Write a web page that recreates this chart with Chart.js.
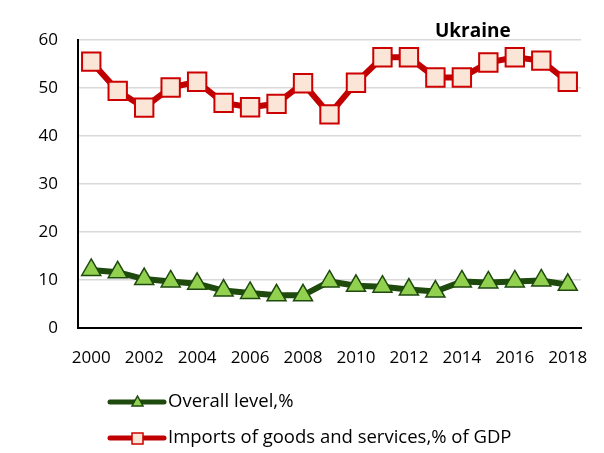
<!DOCTYPE html>
<html lang="en">
<head>
    <meta charset="UTF-8">
    <title>Ukraine</title>
    <script src="https://cdn.jsdelivr.net/npm/chart.js"></script>
    <style>
        html, body { margin: 0; padding: 0; background: #fff; }
        #wrap { width: 604px; height: 453px; position: relative; }
    </style>
</head>
<body>
<div id="wrap">
    <canvas id="chart" width="604" height="453"></canvas>
</div>

<script>
    // data
    const years = ['2000', '2001', '2002', '2003', '2004', '2005', '2006', '2007', '2008', '2009',
                   '2010', '2011', '2012', '2013', '2014', '2015', '2016', '2017', '2018'];
    const overallLevel = [12.1, 11.6, 10.2, 9.7, 9.2, 7.8, 7.3, 6.8, 6.8, 9.7,
                          8.8, 8.6, 8.0, 7.6, 9.7, 9.5, 9.7, 9.9, 9.0];
    const importsGdp = [55.5, 49.4, 45.9, 50.1, 51.3, 46.9, 46.0, 46.7, 51.0, 44.5,
                        51.1, 56.4, 56.4, 52.2, 52.2, 55.3, 56.4, 55.7, 51.3];
    const yTicks = [0, 10, 20, 30, 40, 50, 60];
    const chartTitle = 'Ukraine';

    const FONT = '"Open Sans", Lato, sans-serif';
    const GREEN = '#1E4A0E';
    const RED = '#C00000';

    // legend + title drawn by hand, Excel style (line with marker in the middle)
    const excelBits = {
        id: 'excelBits',
        afterDraw(chart) {
            const ctx = chart.ctx;
            const area = chart.chartArea;
            ctx.save();

            ctx.fillStyle = '#000';
            ctx.font = 'bold 19px ' + FONT;
            ctx.textAlign = 'center';
            ctx.textBaseline = 'alphabetic';
            ctx.fillText(chartTitle, area.left + (area.right - area.left) * 0.785, 37);

            const rows = [402, 438];
            chart.data.datasets.forEach((ds, i) => {
                const y = rows[i];
                ctx.strokeStyle = ds.borderColor;
                ctx.lineWidth = 5;
                ctx.lineCap = 'round';
                ctx.beginPath();
                ctx.moveTo(110, y);
                ctx.lineTo(164, y);
                ctx.stroke();

                ctx.fillStyle = ds.pointBackgroundColor;
                ctx.strokeStyle = ds.pointBorderColor;
                ctx.lineWidth = 1.5;
                ctx.beginPath();
                if (ds.pointStyle === 'rect') {
                    ctx.rect(132, y - 5, 11, 11);
                } else {
                    ctx.moveTo(137.5, y - 6);
                    ctx.lineTo(143, y + 4);
                    ctx.lineTo(132, y + 4);
                    ctx.closePath();
                }
                ctx.fill();
                ctx.stroke();

                ctx.fillStyle = '#000';
                ctx.font = '18.5px ' + FONT;
                ctx.textAlign = 'left';
                ctx.textBaseline = 'middle';
                ctx.fillText(ds.label, 168, y);
            });
            ctx.restore();
        }
    };

    new Chart(document.getElementById('chart').getContext('2d'), {
        type: 'line',
        data: {
            labels: years,
            datasets: [{
                label: 'Overall level,%',
                data: overallLevel,
                borderColor: GREEN,
                borderWidth: 6,
                pointStyle: 'triangle',
                pointRadius: 11,
                pointBackgroundColor: '#92D050',
                pointBorderColor: GREEN,
                pointBorderWidth: 1.5,
                tension: 0
            }, {
                label: 'Imports of goods and services,% of GDP',
                data: importsGdp,
                borderColor: RED,
                borderWidth: 6,
                pointStyle: 'rect',
                pointRadius: 13,
                pointBackgroundColor: '#FBE5D6',
                pointBorderColor: '#CC0000',
                pointBorderWidth: 2,
                tension: 0
            }]
        },
        options: {
            responsive: false,
            animation: false,
            layout: { padding: { left: 0, top: 40, right: 23, bottom: 85 } },
            plugins: {
                legend: { display: false },
                tooltip: { enabled: false }
            },
            scales: {
                x: {
                    offset: true,
                    grid: { display: false },
                    border: { display: true, color: '#000', width: 2 },
                    ticks: {
                        autoSkip: false,
                        maxRotation: 0,
                        color: '#000',
                        font: { family: FONT, size: 17 },
                        padding: 12,
                        callback: function (v, i) { return i % 2 === 0 ? years[i] : null; }
                    },
                    afterFit(scale) { scale.height = 40; }
                },
                y: {
                    min: 0,
                    max: 60,
                    afterBuildTicks(scale) { scale.ticks = yTicks.map(v => ({ value: v })); },
                    grid: { color: '#D9D9D9', lineWidth: 1.5, drawTicks: false },
                    border: { display: true, color: '#000', width: 2 },
                    ticks: {
                        color: '#000',
                        font: { family: FONT, size: 17 },
                        padding: 20
                    },
                    afterFit(scale) { scale.width = 78; }
                }
            }
        },
        plugins: [excelBits]
    });
</script>
</body>
</html>
